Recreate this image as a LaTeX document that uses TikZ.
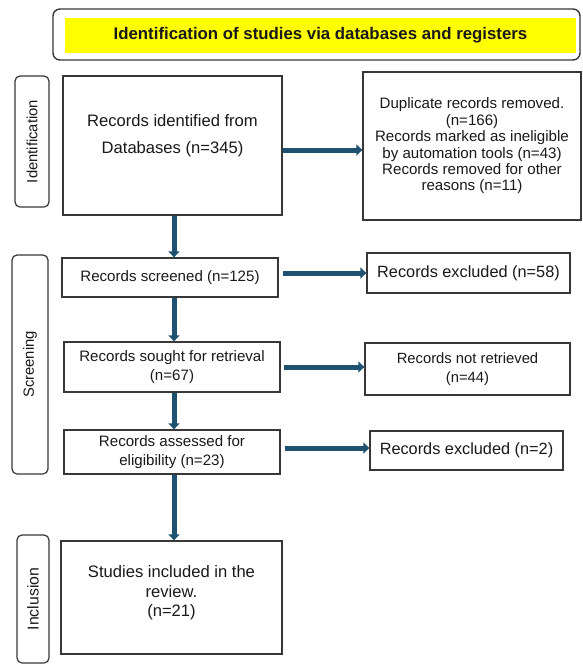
\documentclass[tikz,border=0pt]{standalone}
\usepackage{fontspec}
\setmainfont{Liberation Sans}
\usetikzlibrary{arrows.meta,calc}
\definecolor{arrowc}{RGB}{31,82,112}
\definecolor{boxline}{RGB}{55,55,55}
\definecolor{txt}{RGB}{25,25,25}
\definecolor{titleyellow}{RGB}{255,255,0}
\tikzset{
  box/.style={draw=boxline, line width=1.3pt, fill=white, inner sep=0pt, align=center, text=txt, font=\fontsize{15.1}{16.4}\selectfont},
  sidelab/.style={draw=boxline, line width=1.2pt, rounded corners=5pt, inner sep=0pt, fill=white},
  sidetext/.style={rotate=90, text=txt, font=\fontsize{14.8}{16.4}\selectfont},
  txtnode/.style={align=center, text=txt, inner sep=0pt},
  arr/.style={draw=arrowc, line width=5pt, -{Triangle[length=6pt,width=11pt]}},
}
\begin{document}
\begin{tikzpicture}[x=1pt,y=-1pt]
\useasboundingbox (0,0) rectangle (582,664);
% title
\node[draw=boxline, line width=1.4pt, rounded corners=7pt, minimum width=527pt, minimum height=51pt, inner sep=0pt] (titlebox) at (316.5,34.5) {};
\node[fill=titleyellow, minimum width=511pt, minimum height=35pt, inner sep=0pt, text=txt, font=\fontsize{16.8}{18}\selectfont\bfseries] (title) at (320.5,35.5) {Identification of studies via databases and registers};
% side labels
\node[sidelab, minimum width=34pt, minimum height=131pt] (idlab) at (32,141.5) {};
\node[sidetext] at (idlab.center) {Identification};
\node[sidelab, minimum width=36pt, minimum height=219pt] (scrlab) at (30,364.5) {};
\node[sidetext] at (scrlab.center) {Screening};
\node[sidelab, minimum width=32pt, minimum height=128pt] (inclab) at (33,599) {};
\node[sidetext, font=\fontsize{15.8}{17}\selectfont] at (inclab.center) {Inclusion};
% main boxes
\node[box, minimum width=219pt, minimum height=139pt] (rec1) at (172.5,145.5) {};
\node[txtnode, font=\fontsize{16.6}{27}\selectfont] at (172.5,135.5) {Records identified from\\Databases (n=345)};
\node[box, minimum width=218pt, minimum height=148pt] (dup) at (472,146) {Duplicate records removed.\\(n=166)\\Records marked as ineligible\\by automation tools (n=43)\\Records removed for other\\reasons (n=11)};
\node[box, minimum width=216pt, minimum height=39pt] (scr) at (170,277.5) {Records screened (n=125)};
\node[box, minimum width=203pt, minimum height=40pt, font=\fontsize{16.3}{18}\selectfont] (exc58) at (468.5,273) {Records excluded (n=58)};
\node[box, minimum width=216pt, minimum height=50pt, font=\fontsize{15.1}{19}\selectfont] (sought) at (172,367) {Records sought for retrieval\\(n=67)};
\node[box, minimum width=205pt, minimum height=52pt, font=\fontsize{14.8}{19}\selectfont] (notret) at (467.5,369) {Records not retrieved\\(n=44)};
\node[box, minimum width=216pt, minimum height=44pt, font=\fontsize{15.1}{19}\selectfont] (assessed) at (172,452) {Records assessed for\\eligibility (n=23)};
\node[box, minimum width=193pt, minimum height=39pt, font=\fontsize{16.3}{18}\selectfont] (exc2) at (466.5,450.5) {Records excluded (n=2)};
\node[box, minimum width=221pt, minimum height=113pt] (studies) at (171.5,597.5) {};
\node[txtnode, font=\fontsize{16.6}{19.5}\selectfont] at (171.5,593) {Studies included in the\\review.\\(n=21)};
% connectors
\coordinate (vx) at (174,0);
\coordinate (h1) at (0,150);
\coordinate (h2) at (0,273);
\coordinate (h3) at (0,367);
\coordinate (h4) at (0,448);
\draw[arr] (rec1.east |- h1) -- (dup.west |- h1);
\draw[arr] (rec1.south -| vx) -- (scr.north -| vx);
\draw[arr] (scr.east |- h2) ++(4,0) -- (exc58.west |- h2);
\draw[arr] (scr.south -| vx) -- (sought.north -| vx);
\draw[arr] (sought.east |- h3) ++(3,0) -- (notret.west |- h3);
\draw[arr] (sought.south -| vx) -- (assessed.north -| vx);
\draw[arr] (assessed.east |- h4) ++(4,0) -- (exc2.west |- h4);
\draw[arr] (assessed.south -| vx) -- (studies.north -| vx);
\end{tikzpicture}
\end{document}
